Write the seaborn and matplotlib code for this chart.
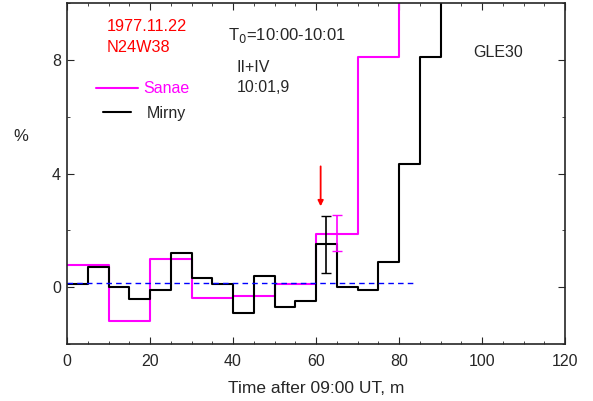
import matplotlib
matplotlib.use("Agg")
import matplotlib.pyplot as plt
import seaborn as sns
import pandas as pd

# Sanae, 10-min bins (start time, %)
sanae_t = [0, 10, 20, 30, 40, 50, 60, 70, 80, 90]
sanae_v = [0.79, -1.2, 1.0, -0.39, -0.30, 0.10, 1.88, 8.09, 12.0, 12.0]

# Mirny, 5-min bins (start time, %)
mirny_t = [0, 5, 10, 15, 20, 25, 30, 35, 40, 45, 50, 55, 60, 65, 70, 75, 80, 85, 90, 95]
mirny_v = [0.12, 0.71, 0.0, -0.40, -0.09, 1.20, 0.32, 0.10, -0.90, 0.39,
           -0.69, -0.50, 1.51, 0.02, -0.09, 0.90, 4.32, 8.09, 14.0, 14.0]

# background level and error bars
bg_t = [0, 84]
bg_v = [0.15, 0.15]
err_x = [62.5, 65.0]
err_y = [1.50, 1.90]
err_e = [1.00, 0.64]

MAG = "#ff00ff"

sns.set_style("ticks")
plt.rcParams['font.family'] = ['Liberation Sans', 'DejaVu Sans']

fig = plt.figure(figsize=(5.93, 4.01), dpi=100)
ax = fig.add_axes([0.113, 0.142, 0.84, 0.8505])

df_s = pd.DataFrame({"t": sanae_t, "v": sanae_v})
df_m = pd.DataFrame({"t": mirny_t, "v": mirny_v})
sns.lineplot(data=df_s, x="t", y="v", ax=ax, color=MAG, lw=1.5,
             drawstyle="steps-post", estimator=None)
sns.lineplot(data=df_m, x="t", y="v", ax=ax, color="black", lw=1.5,
             drawstyle="steps-post", estimator=None)
ax.plot(bg_t, bg_v, color="blue", lw=1, ls=(0, (4, 3)))

ax.errorbar(err_x[0], err_y[0], yerr=err_e[0], color="black", lw=1.2, capsize=3.5)
ax.errorbar(err_x[1], err_y[1], yerr=err_e[1], color=MAG, lw=1.2, capsize=3.5)

ax.annotate("", xy=(61.1, 2.75), xytext=(61.1, 4.35),
            arrowprops=dict(arrowstyle="-|>", color="red", lw=1.3,
                            mutation_scale=8))

ax.set_xlim(0, 120)
ax.set_ylim(-2, 10)
ax.set_xticks([0, 20, 40, 60, 80, 100, 120])
ax.set_xticks(range(0, 121, 5), minor=True)
ax.set_yticks([0, 4, 8])
ax.set_yticks([-2, 0, 2, 4, 6, 8, 10], minor=True)
ax.tick_params(which="both", direction="in", top=True, right=True, labelsize=11.5)
ax.tick_params(axis="x", which="major", length=5, pad=7)
ax.tick_params(axis="y", which="major", length=5, pad=4.5)
ax.tick_params(which="minor", length=2.5)
for s in ax.spines.values():
    s.set_linewidth(1.2)

ax.set_xlabel("Time after 09:00 UT, m", fontsize=12.5, labelpad=8.5)
ax.set_ylabel("")
ax.text(-0.092, 0.608, "%", transform=ax.transAxes, fontsize=12, ha="center", va="center")

tr = ax.transAxes
ax.text(0.079, 0.917, "1977.11.22", transform=tr, color="red", fontsize=11.7, va="baseline")
ax.text(0.079, 0.857, "N24W38", transform=tr, color="red", fontsize=11.7, va="baseline")
ax.text(0.324, 0.891, r"T$_0$=10:00-10:01", transform=tr, fontsize=12, va="baseline")
ax.text(0.340, 0.799, "II+IV", transform=tr, fontsize=11.5, va="baseline")
ax.text(0.340, 0.740, "10:01,9", transform=tr, fontsize=11.5, va="baseline")
ax.text(0.815, 0.841, "GLE30", transform=tr, fontsize=11.5, va="baseline")

# hand-drawn key, as in the original
ax.plot([0.059, 0.143], [0.752, 0.752], transform=tr, color=MAG, lw=1.5)
ax.text(0.154, 0.735, "Sanae", transform=tr, color=MAG, fontsize=11.5, va="baseline")
ax.plot([0.072, 0.129], [0.680, 0.680], transform=tr, color="black", lw=1.5)
ax.text(0.161, 0.662, "Mirny", transform=tr, fontsize=11.5, va="baseline")

fig.savefig("out.png", dpi=100)
